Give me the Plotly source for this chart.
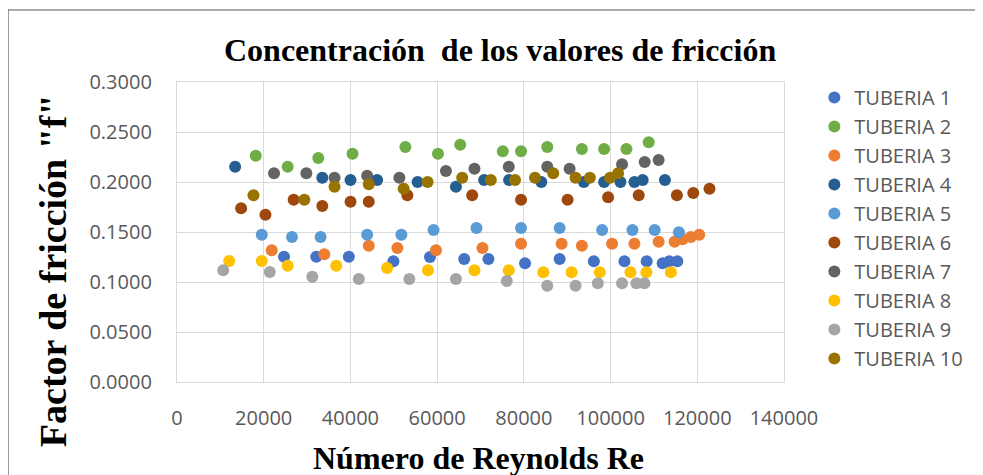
import plotly.graph_objects as go

series_names = ["TUBERIA 1", "TUBERIA 2", "TUBERIA 3", "TUBERIA 4", "TUBERIA 5",
                "TUBERIA 6", "TUBERIA 7", "TUBERIA 8", "TUBERIA 9", "TUBERIA 10"]
colors = ["#4472C4", "#70AD47", "#ED7D31", "#255E91", "#5B9BD5",
          "#9E480E", "#636363", "#FFC000", "#A5A5A5", "#997300"]

re_t1 = [24680, 32130, 39630, 49910, 58350, 66240, 71830, 80270, 88250, 96140, 103200, 108330, 112010, 113550, 115390]
f_t1 = [0.1253, 0.1253, 0.1253, 0.1207, 0.1250, 0.1230, 0.1230, 0.1187, 0.1230, 0.1207, 0.1207, 0.1207, 0.1187, 0.1207, 0.1207]

re_t2 = [18170, 25530, 32590, 40480, 52670, 60190, 65320, 75140, 79350, 85400, 93380, 98510, 103660, 108790]
f_t2 = [0.2263, 0.2153, 0.2240, 0.2283, 0.2350, 0.2283, 0.2373, 0.2307, 0.2307, 0.2350, 0.2330, 0.2330, 0.2330, 0.2397]

re_t3 = [21850, 33970, 44230, 50830, 59730, 70450, 79350, 88710, 93380, 100350, 105500, 111090, 114770, 116610, 118520, 120450]
f_t3 = [0.1317, 0.1277, 0.1363, 0.1340, 0.1317, 0.1340, 0.1383, 0.1383, 0.1363, 0.1383, 0.1383, 0.1403, 0.1403, 0.1427, 0.1450, 0.1473]

re_t4 = [13410, 33510, 40020, 46160, 55500, 64330, 70840, 76590, 84020, 93840, 98510, 102280, 105500, 107410, 112540]
f_t4 = [0.2153, 0.2043, 0.2020, 0.2020, 0.2000, 0.1953, 0.2020, 0.2020, 0.2000, 0.2000, 0.2000, 0.2000, 0.2000, 0.2020, 0.2020]

re_t5 = [19550, 26520, 33120, 43860, 51750, 59180, 69070, 79350, 88250, 98050, 105040, 110170, 115760]
f_t5 = [0.1473, 0.1450, 0.1450, 0.1473, 0.1473, 0.1520, 0.1540, 0.1540, 0.1540, 0.1520, 0.1520, 0.1520, 0.1497]

re_t6 = [14790, 20400, 26910, 33510, 40020, 44230, 53130, 68080, 79350, 90090, 99430, 106490, 115300, 119070, 122820]
f_t6 = [0.1737, 0.1673, 0.1823, 0.1760, 0.1803, 0.1803, 0.1867, 0.1867, 0.1823, 0.1823, 0.1847, 0.1867, 0.1867, 0.1890, 0.1933]

re_t7 = [22380, 29830, 36340, 43860, 51290, 62030, 68610, 76520, 85400, 90550, 102650, 107870, 111090]
f_t7 = [0.2087, 0.2087, 0.2043, 0.2063, 0.2043, 0.2110, 0.2133, 0.2153, 0.2153, 0.2133, 0.2177, 0.2200, 0.2220]

re_t8 = [12030, 19550, 25530, 36730, 48460, 57890, 68610, 76520, 84480, 91010, 97520, 104580, 108260, 113920]
f_t8 = [0.1210, 0.1210, 0.1163, 0.1163, 0.1140, 0.1117, 0.1117, 0.1117, 0.1097, 0.1097, 0.1097, 0.1097, 0.1097, 0.1097]

re_t9 = [10650, 21390, 31210, 41930, 53590, 64330, 76060, 85400, 91930, 97060, 102650, 105960, 107800]
f_t9 = [0.1117, 0.1100, 0.1053, 0.1030, 0.1030, 0.1030, 0.1010, 0.0963, 0.0963, 0.0987, 0.0987, 0.0987, 0.0987]

re_t10 = [17640, 29370, 36340, 44230, 52280, 57800, 65780, 72380, 77970, 82570, 86780, 91930, 95220, 99890, 101730]
f_t10 = [0.1867, 0.1823, 0.1953, 0.1977, 0.1933, 0.2000, 0.2043, 0.2020, 0.2020, 0.2043, 0.2087, 0.2043, 0.2043, 0.2043, 0.2087]

x_data = [re_t1, re_t2, re_t3, re_t4, re_t5, re_t6, re_t7, re_t8, re_t9, re_t10]
y_data = [f_t1, f_t2, f_t3, f_t4, f_t5, f_t6, f_t7, f_t8, f_t9, f_t10]

title_text = "Concentración  de los valores de fricción"
x_title = "Número de Reynolds Re"
y_title = "Factor de fricción \"f\""

fig = go.Figure()
for name, col, xs, ys in zip(series_names, colors, x_data, y_data):
    fig.add_trace(go.Scatter(x=xs, y=ys, mode="markers", name=name, legendgroup=name,
                             marker=dict(color=col, size=12, line=dict(width=0))))

tick_font = dict(family="Open Sans, sans-serif", size=20, color="#595959")
serif = "Liberation Serif, Times New Roman, serif"

# the page body has an 8px margin, so the plot area is offset by 8px
L, T, PW, PH = 169, 74, 607, 300

fig.update_layout(
    width=983, height=475,
    margin=dict(l=L, r=983 - L - PW, t=T, b=475 - T - PH, autoexpand=False),
    paper_bgcolor="white", plot_bgcolor="white",
    showlegend=True,
    legend=dict(x=1.05, xanchor="left", y=1.013, yanchor="top",
                font=tick_font, tracegroupgap=0, bgcolor="rgba(0,0,0,0)",
                itemsizing="constant", maxheight=420),
    xaxis=dict(range=[0, 140000], dtick=20000, tick0=0, tickformat="d", tickangle=0,
               automargin=False,
               showgrid=True, gridcolor="#D9D9D9", gridwidth=1.3,
               showline=True, linecolor="#D9D9D9", linewidth=1.3, mirror=True,
               zeroline=False, ticks="", tickfont=tick_font, ticklabelstandoff=18),
    yaxis=dict(range=[0, 0.3], dtick=0.05, tick0=0, tickformat=".4f",
               automargin=False,
               showgrid=True, gridcolor="#D9D9D9", gridwidth=1.3,
               showline=True, linecolor="#D9D9D9", linewidth=1.3, mirror=True,
               zeroline=False, ticks="", tickfont=tick_font, ticklabelstandoff=20),
    annotations=[
        dict(text="<b>" + title_text + "</b>", xref="paper", yref="paper",
             x=0.532, y=1.1067, xanchor="center", yanchor="middle", showarrow=False,
             font=dict(family=serif, size=32, color="black")),
        dict(text="<b>" + x_title + "</b>", xref="paper", yref="paper",
             x=0.4975, y=-0.255, xanchor="center", yanchor="middle", showarrow=False,
             font=dict(family=serif, size=32, color="black")),
        dict(text="<b>" + y_title + "</b>", xref="paper", yref="paper",
             x=-0.204, y=0.37, xanchor="center", yanchor="middle", showarrow=False,
             textangle=-90, font=dict(family=serif, size=38, color="black")),
    ],
    shapes=[dict(type="rect", xref="paper", yref="paper",
                 x0=(8 - 177) / PW, x1=(978 - 177) / PW,
                 y0=(382 - 490) / PH, y1=(382 - 10) / PH,
                 line=dict(color="#595959", width=1.2), fillcolor="rgba(0,0,0,0)", layer="below")],
)

fig.write_html("out.html")
